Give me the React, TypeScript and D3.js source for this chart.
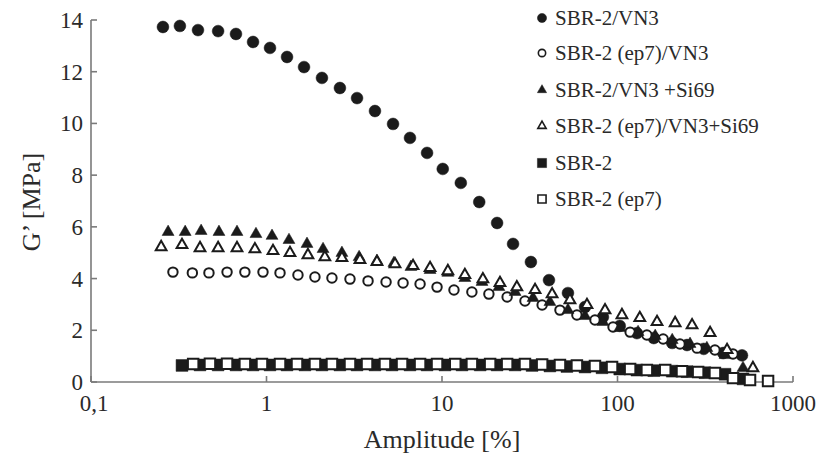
import React from "react";
import * as d3 from "d3";

// ---- data (Amplitude [%], G' [MPa]) ----
const s1X = [0.257,0.321,0.407,0.53,0.67,0.838,1.047,1.309,1.636,2.07,2.62,3.28,4.15,5.26,6.57,8.22,10.1,12.8,16.3,20.6,25.4,32.1,40.7,52.2,65.3,82.6,103,129,161,205,249,310,400,512];
const s1Y = [13.73,13.77,13.61,13.57,13.46,13.15,12.92,12.57,12.18,11.76,11.37,10.98,10.48,9.98,9.44,8.86,8.24,7.7,6.96,6.15,5.34,4.64,3.94,3.44,2.9,2.51,2.17,1.89,1.7,1.51,1.43,1.28,1.12,1.03];

const s2X = [0.293,0.378,0.47,0.596,0.753,0.955,1.194,1.511,1.888,2.36,2.99,3.79,4.8,6.0,7.5,9.37,11.7,14.8,18.5,23.5,29.7,37.2,47.0,58.7,74.4,94.3,118,147,182,227,284,359,455];
const s2Y = [4.25,4.22,4.22,4.25,4.25,4.25,4.22,4.14,4.06,4.02,3.98,3.91,3.87,3.83,3.79,3.67,3.56,3.48,3.4,3.29,3.13,2.98,2.78,2.59,2.4,2.13,1.93,1.82,1.66,1.47,1.31,1.24,1.08];

const s3X = [0.275,0.344,0.424,0.536,0.679,0.871,1.075,1.343,1.701,2.1,2.69,3.37,4.26,5.32,6.65,8.55,10.8,13.5,16.9,21.1,26.1,33.0,41.2,52.2,65.3,82.6,103,131,164,205,259,323,410,519];
const s3Y = [5.8,5.8,5.84,5.8,5.8,5.72,5.65,5.49,5.34,5.14,4.99,4.83,4.68,4.6,4.45,4.33,4.22,4.02,3.87,3.67,3.48,3.25,3.09,2.78,2.55,2.32,2.09,1.93,1.78,1.62,1.47,1.31,1.04,0.54];

const s4X = [0.251,0.33,0.418,0.53,0.679,0.859,1.089,1.361,1.722,2.15,2.69,3.41,4.26,5.4,6.84,8.55,10.8,13.5,17.1,21.4,26.7,33.9,42.4,53.6,67.0,84.9,106,134,168,213,266,337,421,591];
const s4Y = [5.22,5.3,5.18,5.18,5.18,5.14,5.07,4.99,4.91,4.83,4.8,4.72,4.64,4.56,4.49,4.41,4.29,4.14,3.98,3.83,3.67,3.56,3.4,3.17,2.98,2.78,2.59,2.48,2.32,2.28,2.2,1.9,1.24,0.54];

const s5X = [0.33,0.418,0.53,0.67,0.838,1.047,1.309,1.656,2.07,2.62,3.28,4.15,5.19,6.57,8.22,10.4,13.0,16.5,20.6,26.1,32.6,41.2,51.5,65.3,81.6,103,129,161,205,249,315,410,519];
const s5Y = [0.64,0.66,0.66,0.66,0.66,0.66,0.66,0.66,0.66,0.66,0.66,0.66,0.66,0.66,0.66,0.66,0.66,0.66,0.66,0.66,0.64,0.62,0.6,0.58,0.55,0.5,0.46,0.44,0.42,0.4,0.36,0.3,0.12];

const s6X = [0.382,0.476,0.596,0.753,0.942,1.194,1.492,1.888,2.36,2.99,3.74,4.73,5.92,7.5,9.37,11.9,14.8,18.8,23.5,29.7,37.2,47.0,58.7,74.4,93.1,118,147,187,233,288,359,455,569,721];
const s6Y = [0.7,0.71,0.71,0.7,0.7,0.7,0.7,0.7,0.7,0.7,0.7,0.7,0.7,0.7,0.7,0.7,0.7,0.7,0.7,0.7,0.68,0.66,0.64,0.62,0.58,0.5,0.46,0.46,0.42,0.39,0.35,0.15,0.08,0.04];

const seriesNames = [
  "SBR-2/VN3",
  "SBR-2 (ep7)/VN3",
  "SBR-2/VN3 +Si69",
  "SBR-2 (ep7)/VN3+Si69",
  "SBR-2",
  "SBR-2 (ep7)",
];

const xTickValues = [0.1, 1, 10, 100, 1000];
const xTickLabels = ["0,1", "1", "10", "100", "1000"];
const yTickValues = [0, 2, 4, 6, 8, 10, 12, 14];

type Kind = "circle" | "triangle" | "square";
const seriesData = [
  { xs: s1X, ys: s1Y, kind: "circle" as Kind, filled: true },
  { xs: s2X, ys: s2Y, kind: "circle" as Kind, filled: false },
  { xs: s3X, ys: s3Y, kind: "triangle" as Kind, filled: true },
  { xs: s4X, ys: s4Y, kind: "triangle" as Kind, filled: false },
  { xs: s5X, ys: s5Y, kind: "square" as Kind, filled: true },
  { xs: s6X, ys: s6Y, kind: "square" as Kind, filled: false },
];

const INK = "#1b1b1b";
const AXIS = "#7a7a7a";
const TEXT = "#2a2a2a";
const FONT = "'Liberation Serif', 'Times New Roman', serif";

function symbolPath(kind: Kind, filled: boolean, scale: number) {
  if (kind === "circle") {
    return d3.symbol(d3.symbolCircle, (filled ? 110 : 70) * scale)()!;
  }
  if (kind === "triangle") {
    return d3.symbol(d3.symbolTriangle, (filled ? 62 : 50) * scale)()!;
  }
  return d3.symbol(d3.symbolSquare, (filled ? 140 : 110) * scale)()!;
}

export default function App() {
  const W = 819, H = 457;
  const x = d3.scaleLog().domain([0.1, 1000]).range([91, 793]);
  const y = d3.scaleLinear().domain([0, 14]).range([382, 20]);

  const legendY = [18, 53, 90, 126, 163, 199];

  return (
    <div style={{ position: "absolute", left: 0, top: 0 }}>
      <svg width={W} height={H} style={{ display: "block", background: "#fff" }}>
        {/* axes */}
        <g stroke={AXIS} strokeWidth={1.6} fill="none">
          <line x1={x(0.1)} x2={x(0.1)} y1={y(14)} y2={y(0)} />
          <line x1={x(0.1)} x2={x(1000)} y1={y(0)} y2={y(0)} />
          {yTickValues.map((v) => (
            <line key={"yt" + v} x1={x(0.1)} x2={x(0.1) + 6} y1={y(v)} y2={y(v)} />
          ))}
          {xTickValues.map((v) => (
            <line key={"xt" + v} x1={x(v)} x2={x(v)} y1={y(0)} y2={y(0) - 6} />
          ))}
        </g>
        <g fill={TEXT} fontFamily={FONT} fontSize={23}>
          {yTickValues.map((v) => (
            <text key={"yl" + v} x={x(0.1) - 8} y={y(v)} dy="0.35em" textAnchor="end">
              {v}
            </text>
          ))}
          {xTickValues.map((v, i) => (
            <text key={"xl" + v} x={x(v) + (i === 0 ? 3 : 0)} y={411} textAnchor="middle">
              {xTickLabels[i]}
            </text>
          ))}
        </g>
        <text x={442} y={448} textAnchor="middle" fontFamily={FONT} fontSize={26} fill={TEXT}>
          Amplitude [%]
        </text>
        <text
          transform="translate(40,202) rotate(-90)"
          textAnchor="middle"
          fontFamily={FONT}
          fontSize={26}
          fill={TEXT}
        >
          G’ [MPa]
        </text>

        {/* data */}
        {seriesData.map((s, si) => {
          const p = symbolPath(s.kind, s.filled, 1);
          return (
            <g key={"s" + si}>
              {s.xs.map((xv, i) => (
                <path
                  key={i}
                  d={p}
                  transform={`translate(${x(xv)},${y(s.ys[i])})`}
                  fill={s.filled ? INK : "#fff"}
                  stroke={INK}
                  strokeWidth={s.filled ? 0.5 : 2}
                />
              ))}
            </g>
          );
        })}

        {/* legend */}
        {seriesData.map((s, si) => (
          <g key={"lg" + si} transform={`translate(0,${legendY[si]})`}>
            <path
              d={symbolPath(s.kind, s.filled, 0.6)}
              transform="translate(542,0)"
              fill={s.filled ? INK : "#fff"}
              stroke={INK}
              strokeWidth={s.filled ? 0.5 : 1.6}
            />
            <text x={555} y={0} dy="0.33em" fontFamily={FONT} fontSize={21} fill={TEXT}>
              {seriesNames[si]}
            </text>
          </g>
        ))}
      </svg>
    </div>
  );
}
